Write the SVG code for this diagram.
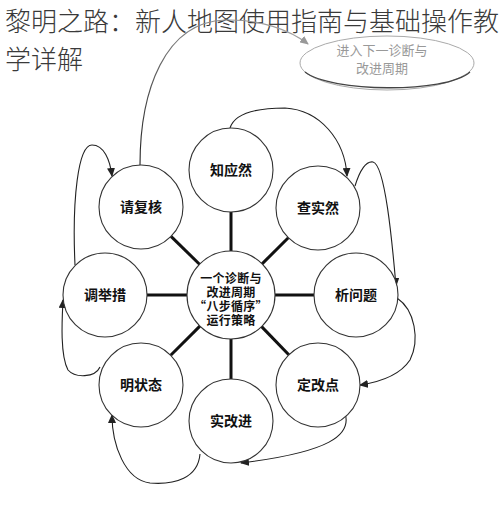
<svg xmlns="http://www.w3.org/2000/svg" width="500" height="514" viewBox="0 0 500 514">
<defs>
<style>
.title{font-family:"Noto Sans CJK SC","Liberation Sans",sans-serif;font-size:26px;fill:#3a3a3a;font-weight:300}
.node circle{fill:#fff;stroke:#333;stroke-width:1.1}
.node text{font-family:"Noto Sans CJK SC","Liberation Sans",sans-serif;font-size:14px;font-weight:bold;fill:#111;text-anchor:middle}
.node text.ctr{font-size:12px;letter-spacing:0.3px}
.spoke{stroke:#111;stroke-width:3;fill:none}
.flow{stroke:#222;stroke-width:1.1;fill:none;marker-end:url(#ah)}
.eltxt{font-family:"Noto Sans CJK SC","Liberation Sans",sans-serif;font-size:13px;fill:#999;text-anchor:middle}
</style>
<marker id="ah" markerUnits="userSpaceOnUse" markerWidth="9" markerHeight="8" refX="8" refY="4" orient="auto"><path d="M0,0 L9,4 L0,8 Z" fill="#222"/></marker>
<marker id="ahg" markerUnits="userSpaceOnUse" markerWidth="9" markerHeight="8" refX="8" refY="4" orient="auto"><path d="M0,0 L9,4 L0,8 Z" fill="#999"/></marker>
<linearGradient id="gfade" x1="0" y1="1" x2="1" y2="0"><stop offset="0" stop-color="#222"/><stop offset="0.5" stop-color="#777"/><stop offset="1" stop-color="#aaa"/></linearGradient>
</defs>
<rect width="500" height="514" fill="#fff"/>
<text class="title" x="5" y="31">黎明之路：新人地图使用指南与基础操作教</text>
<text class="title" x="5" y="69">学详解</text>

<g id="next-cycle">
<ellipse cx="387" cy="63" rx="87" ry="27" fill="#fff" stroke="#aaa" stroke-width="1"/>
<path d="M305,72 C330,92 445,94 470,72" fill="none" stroke="#444" stroke-width="1.3"/>
<text class="eltxt" x="382" y="55">进入下一诊断与</text>
<text class="eltxt" x="382" y="73">改进周期</text>
</g>

<g id="connectors">
<line class="spoke" x1="231" y1="251" x2="231" y2="212"/>
<line class="spoke" x1="199.5" y1="264.2" x2="171" y2="236.4"/>
<line class="spoke" x1="262.1" y1="263.9" x2="288.3" y2="237.7"/>
<line class="spoke" x1="187" y1="295" x2="147" y2="295"/>
<line class="spoke" x1="275" y1="295" x2="314" y2="295"/>
<line class="spoke" x1="199.9" y1="326.1" x2="170.7" y2="355.3"/>
<line class="spoke" x1="261.6" y1="326.6" x2="288.8" y2="354.8"/>
<line class="spoke" x1="231" y1="339" x2="231" y2="379"/>
<path d="M140,165 C140,90 165,22 225,20 C260,19 290,30 308,44" fill="none" stroke="url(#gfade)" stroke-width="1.1" marker-end="url(#ahg)"/>
<path class="flow" d="M75,265 C72,200 78,145 92,145 C104,145 110,160 112,176"/>
<path class="flow" d="M230,128 C235,112 260,108 285,108 C320,110 345,140 347,176"/>
<path class="flow" d="M355,186 C360,170 366,161 373,162 C385,165 392,240 396,286"/>
<path class="flow" d="M397,298 C415,310 420,340 410,360 C400,375 380,382 360,385"/>
<path class="flow" d="M345,413 C352,435 330,452 241,463"/>
<path class="flow" d="M200,454 C198,478 175,485 150,483 C125,480 112,445 112,415"/>
<path class="flow" d="M100,367 C95,378 75,378 68,370 C60,355 62,320 63,300"/>
</g>

<g id="node-center" class="node"><circle cx="231" cy="295" r="44"/>
<text class="ctr" x="231" y="283">一个诊断与</text>
<text class="ctr" x="231" y="297">改进周期</text>
<text class="ctr" x="231" y="311">“八步循序”</text>
<text class="ctr" x="231" y="325">运行策略</text></g>
<g id="node-zhiyingran" class="node"><circle cx="231" cy="170" r="42"/><text x="231" y="175">知应然</text></g>
<g id="node-chashiran" class="node"><circle cx="318" cy="208" r="42"/><text x="318" y="213">查实然</text></g>
<g id="node-xiwenti" class="node"><circle cx="356" cy="295" r="42"/><text x="356" y="300">析问题</text></g>
<g id="node-dinggaidian" class="node"><circle cx="318" cy="385" r="42"/><text x="318" y="390">定改点</text></g>
<g id="node-shigaijin" class="node"><circle cx="231" cy="421" r="42"/><text x="231" y="426">实改进</text></g>
<g id="node-mingzhuangtai" class="node"><circle cx="141" cy="385" r="42"/><text x="141" y="390">明状态</text></g>
<g id="node-tiaojucuo" class="node"><circle cx="105" cy="295" r="42"/><text x="105" y="300">调举措</text></g>
<g id="node-qingfuhe" class="node"><circle cx="141" cy="207" r="42"/><text x="141" y="212">请复核</text></g>
</svg>
